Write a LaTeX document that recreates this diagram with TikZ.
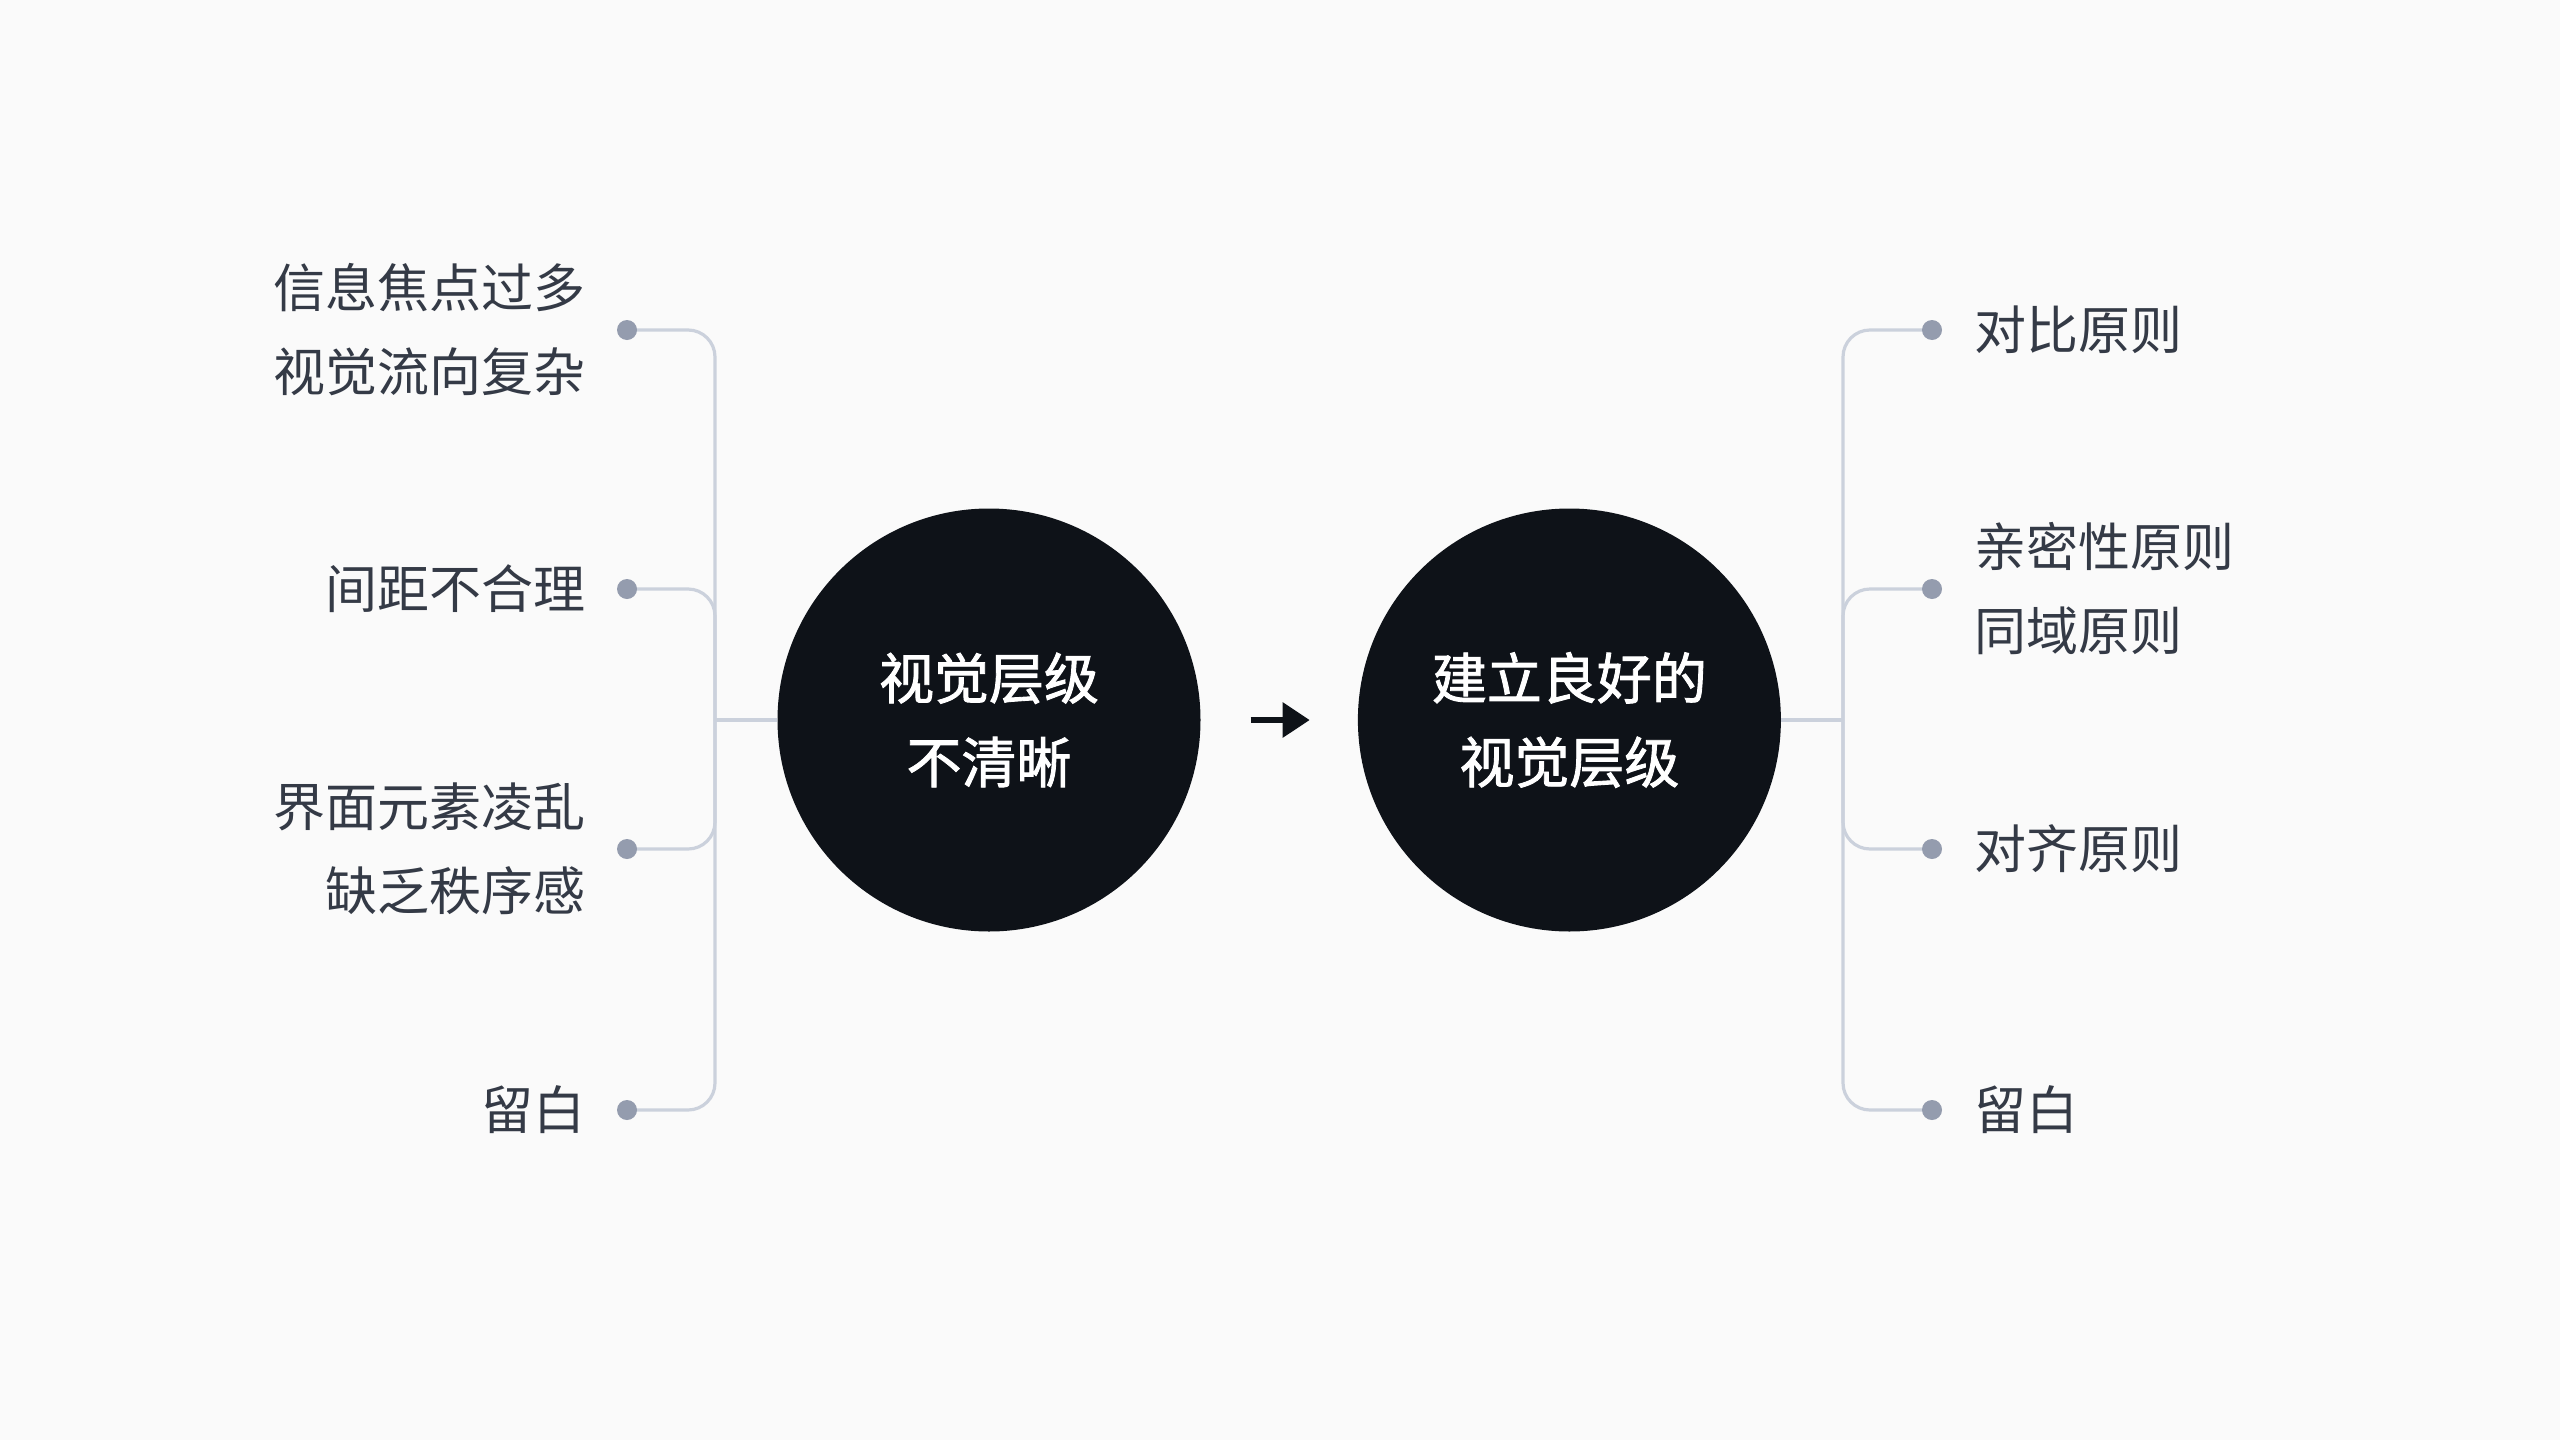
\documentclass[tikz,border=0pt]{standalone}
\usepackage{fontspec}
\setmainfont{Noto Sans CJK SC}
\newfontfamily\hubfont[FakeBold=1.6]{Noto Sans CJK SC}
\usepackage{xcolor}
\usetikzlibrary{arrows.meta,positioning}
\definecolor{paperbg}{HTML}{FAFAFA}
\definecolor{hubdark}{HTML}{0E1218}
\definecolor{labelgray}{HTML}{343A46}
\definecolor{wiregray}{HTML}{CBD1DC}
\definecolor{dotgray}{HTML}{949CAE}

\begin{document}
\begin{tikzpicture}[
  x=1pt,y=-1pt,
  hub/.style={circle,fill=hubdark,minimum size=423pt,inner sep=0pt,text=white,
    align=center,font=\hubfont\fontsize{55}{84}\selectfont},
  leaf/.style={circle,fill=dotgray,minimum size=20pt,inner sep=0pt},
  lefttext/.style={inner sep=0pt,align=right,text=labelgray,font=\fontsize{52}{84}\selectfont},
  righttext/.style={inner sep=0pt,align=left,text=labelgray,font=\fontsize{52}{84}\selectfont},
  branch/.style={draw=wiregray,line width=3.2pt,rounded corners=27pt},
  arrow/.style={-{Triangle[length=27pt,width=34pt]},line width=6pt,color=hubdark}
]
\fill[paperbg] (0,0) rectangle (2560,1440);

% the two hubs
\node[hub] (c1) at (989,720) {视觉层级\\不清晰};
\node[hub,right=157pt of c1] (c2) {建立良好的\\视觉层级};
\coordinate (lhub) at (715,720);
\coordinate (rhub) at (1843,720);

% branch ends
\coordinate (l1) at (627,330);
\coordinate (l2) at (627,589);
\coordinate (l3) at (627,849);
\coordinate (l4) at (627,1110);
\coordinate (r1) at (1932,330);
\coordinate (r2) at (1932,589);
\coordinate (r3) at (1932,849);
\coordinate (r4) at (1932,1110);

% wires
\draw[branch] (l1) -| (lhub);
\draw[branch] (l2) -| (lhub);
\draw[branch] (l3) -| (lhub);
\draw[branch] (l4) -| (lhub);
\draw[branch] (lhub) -- (c1.west);
\draw[branch] (r1) -| (rhub);
\draw[branch] (r2) -| (rhub);
\draw[branch] (r3) -| (rhub);
\draw[branch] (r4) -| (rhub);
\draw[branch] (c2.east) -- (rhub);
\draw[arrow] ([xshift=50pt]c1.east) -- ([xshift=-48pt]c2.west);

% dots and labels
\node[leaf] (l1dot) at (l1) {};
\node[leaf] (l2dot) at (l2) {};
\node[leaf] (l3dot) at (l3) {};
\node[leaf] (l4dot) at (l4) {};
\node[leaf] (r1dot) at (r1) {};
\node[leaf] (r2dot) at (r2) {};
\node[leaf] (r3dot) at (r3) {};
\node[leaf] (r4dot) at (r4) {};

\node[lefttext,left=31pt of l1dot] (l1txt) {信息焦点过多\\视觉流向复杂};
\node[lefttext,left=31pt of l2dot] (l2txt) {间距不合理};
\node[lefttext,left=31pt of l3dot] (l3txt) {界面元素凌乱\\缺乏秩序感};
\node[lefttext,left=31pt of l4dot] (l4txt) {留白};
\node[righttext,right=32pt of r1dot] (r1txt) {对比原则};
\node[righttext,right=32pt of r2dot] (r2txt) {亲密性原则\\同域原则};
\node[righttext,right=32pt of r3dot] (r3txt) {对齐原则};
\node[righttext,right=32pt of r4dot] (r4txt) {留白};
\end{tikzpicture}
\end{document}
